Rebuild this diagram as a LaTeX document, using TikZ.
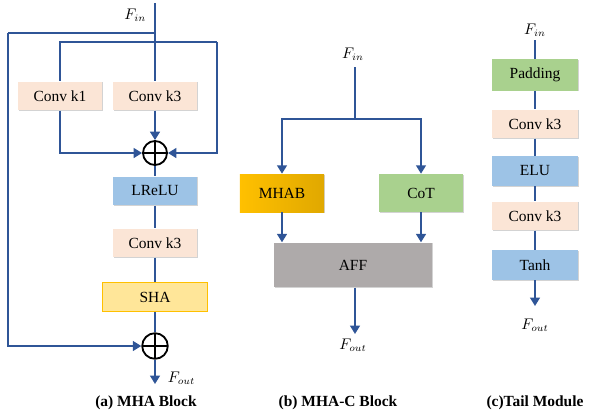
\documentclass[tikz,border=0pt]{standalone}
\usepackage{fontspec}
\setmainfont{Liberation Serif}
\usetikzlibrary{arrows.meta,shadows}

\definecolor{mhline}{HTML}{2F5597}
\definecolor{mhconv}{HTML}{FBE5D6}
\definecolor{mhblue}{HTML}{9DC3E6}
\definecolor{mhgreen}{HTML}{A9D18E}
\definecolor{mhsha}{HTML}{FFE699}
\definecolor{mhshaedge}{HTML}{FFC000}
\definecolor{mhgold}{HTML}{FFC000}
\definecolor{mhgoldd}{HTML}{E0A800}
\definecolor{mhgray}{HTML}{AEAAAA}

\begin{document}
\begin{tikzpicture}[
  x=0.025cm, y=-0.025cm,
  font=\fontsize{11}{13}\selectfont,
  blk/.style={draw=none, minimum width=2.1cm, minimum height=0.72cm, inner sep=0pt,
    drop shadow={shadow xshift=0.6pt, shadow yshift=-0.6pt, opacity=0.35}},
  link/.style={draw=mhline, line width=1.3pt},
  arr/.style={link, -{Triangle[width=7pt,length=6pt]}},
  sum/.style={circle, draw=black, line width=1.3pt, fill=white, minimum size=0.6cm, inner sep=0pt,
    path picture={\draw[line width=1.3pt] (path picture bounding box.north) -- (path picture bounding box.south)
      (path picture bounding box.west) -- (path picture bounding box.east);}},
  lbl/.style={font=\fontsize{10.5}{12}\selectfont},
  captxt/.style={font=\fontsize{11}{13}\selectfont\bfseries},
]
  \useasboundingbox (0,0) rectangle (590,416);

  % (a) MHA Block
  \coordinate (inA) at (155,3);
  \coordinate (jo) at (155,33);
  \coordinate (ji) at (155,42);
  \coordinate (outerL) at (8,33);
  \coordinate (innerL) at (60,42);
  \coordinate (innerR) at (217,42);
  \node[lbl, anchor=east] (finA) at (151,15) {$F_{in}$};
  \node[blk, fill=mhconv] (k1a) at (60,96) {Conv k1};
  \node[blk, fill=mhconv] (k3a) at (155,96) {Conv k3};
  \node[sum] (sumA) at (155,153) {};
  \node[blk, fill=mhblue] (lrelu) at (155,191) {LReLU};
  \node[blk, fill=mhconv] (k3b) at (155,243) {Conv k3};
  \node[blk, fill=mhsha, draw=mhshaedge, line width=0.6pt, minimum width=2.62cm] (sha) at (155,297) {SHA};
  \node[sum, minimum size=0.64cm] (sumB) at (155,346) {};
  \coordinate (outA) at (155,384);
  \node[lbl, anchor=west] (foutA) at (163,378) {$F_{out}$};
  \node[captxt] (capA) at (146,403) {(a) MHA Block};

  \draw[link] (inA) -- (k3a);
  \draw[link] (jo) -- (outerL);
  \draw[arr] (outerL) |- (sumB);
  \draw[link] (innerR) -- (innerL) -- (k1a);
  \draw[arr] (innerR) |- (sumA);
  \draw[arr] (k1a) |- (sumA);
  \draw[arr] (k3a) -- (sumA);
  \draw[link] (sumA) -- (lrelu);
  \draw[link] (lrelu) -- (k3b);
  \draw[link] (k3b) -- (sha);
  \draw[link] (sha) -- (sumB);
  \draw[arr] (sumB) -- (outA);

  % (b) MHA-C Block
  \node[lbl] (finB) at (353,54) {$F_{in}$};
  \coordinate (inB) at (355,67);
  \coordinate (jb) at (355,119);
  \node[blk, left color=mhgold, right color=mhgoldd, minimum height=0.95cm] (mhab) at (282,193) {MHAB};
  \node[blk, fill=mhgreen, minimum height=0.95cm] (cot) at (421,193) {CoT};
  \node[blk, fill=mhgray, minimum width=3.95cm, minimum height=1.12cm] (aff) at (353,265) {AFF};
  \coordinate (outB) at (355,334);
  \node[lbl] (foutB) at (353,345) {$F_{out}$};
  \node[captxt] (capB) at (338,403) {(b) MHA-C Block};

  \draw[link] (inB) -- (jb);
  \draw[arr] (jb) -| (mhab);
  \draw[arr] (jb) -| (cot);
  \draw[arr] (mhab) -- (mhab |- aff.north);
  \draw[arr] (cot) -- (cot |- aff.north);
  \draw[arr] (aff.south -| outB) -- (outB);

  % (c) Tail Module
  \node[lbl] (finC) at (535,30) {$F_{in}$};
  \coordinate (inC) at (535,40);
  \node[blk, fill=mhgreen, minimum width=2.15cm, minimum height=0.78cm] (pad) at (535,75) {Padding};
  \node[blk, fill=mhconv, minimum width=2.15cm] (k3c) at (535,124) {Conv k3};
  \node[blk, fill=mhblue, minimum width=2.15cm, minimum height=0.75cm] (elu) at (535,171) {ELU};
  \node[blk, fill=mhconv, minimum width=2.15cm] (k3d) at (535,216) {Conv k3};
  \node[blk, fill=mhblue, minimum width=2.15cm, minimum height=0.75cm] (tanh) at (535,265) {Tanh};
  \coordinate (outC) at (535,306);
  \node[lbl] (foutC) at (535,325) {$F_{out}$};
  \node[captxt] (capC) at (535,403) {(c)Tail Module};

  \draw[link] (inC) -- (pad);
  \draw[link] (pad) -- (k3c);
  \draw[link] (k3c) -- (elu);
  \draw[link] (elu) -- (k3d);
  \draw[link] (k3d) -- (tanh);
  \draw[arr] (tanh) -- (outC);
\end{tikzpicture}
\end{document}
